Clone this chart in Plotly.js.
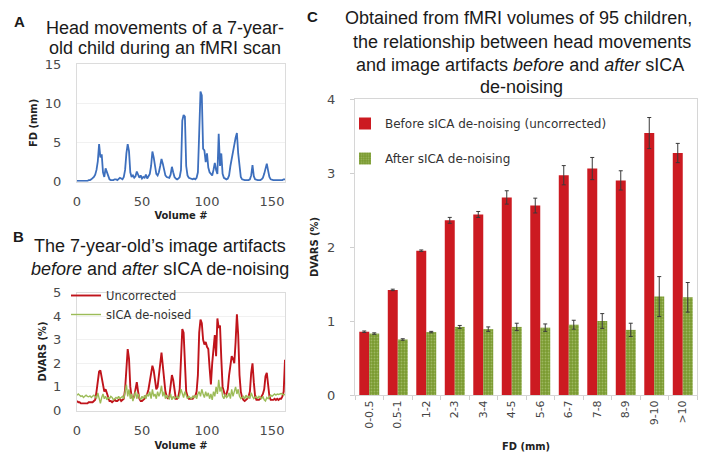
<!DOCTYPE html>
<html><head><meta charset="utf-8">
<script src="https://cdn.plot.ly/plotly-3.0.1.min.js"></script>
<style>html,body{margin:0;padding:0;background:#fff}#chart{width:705px;height:455px}</style>
</head><body><div id="chart"></div>
<script>
// Panel A: framewise displacement per volume (mm)
const fdMovement = [
0.1,0.1,0.1,0.1,0.1,0.1,0.1,0.1,0.1,0.2,
0.2,0.3,0.4,0.6,0.9,1.5,2.6,4.8,3.1,3.5,
1.2,0.6,1.7,1.2,0.5,0.3,0.2,0.2,0.2,0.3,
0.3,0.2,0.3,0.5,0.4,0.3,0.6,1.5,3.6,4.8,
3.9,1.2,0.6,0.8,0.5,0.7,1.3,0.8,0.5,0.8,
0.4,0.6,0.5,0.9,0.4,0.7,1.0,2.0,3.85,3.1,
1.8,1.0,0.8,1.2,2.0,2.9,2.3,1.3,0.8,0.6,
0.5,0.5,0.9,1.9,1.2,0.6,0.4,0.3,0.4,0.6,
1.5,7.8,8.5,8.3,2.0,0.8,0.5,0.4,0.3,0.3,
0.4,0.3,0.5,1.2,6.2,11.5,11.0,4.2,4.0,2.5,
3.6,1.8,1.2,1.0,0.8,1.5,2.4,1.5,1.0,6.1,
2.0,3.6,1.0,0.5,0.4,0.3,0.4,0.8,2.0,3.1,
4.1,4.7,5.6,6.2,3.6,1.5,0.6,0.3,0.2,0.2,
0.2,0.2,0.2,0.3,0.8,2.1,0.7,0.3,0.2,0.2,
0.2,0.2,0.3,0.5,1.0,1.9,2.3,1.4,0.6,0.3,
0.2,0.2,0.2,0.2,0.2,0.2,0.2,0.2,0.2,0.3,
0.3];
// Panel B: DVARS (%) per volume
const dvarsUncorrected = [
0.4,0.35,0.35,0.3,0.3,0.3,0.3,0.3,0.3,0.35,
0.35,0.35,0.35,0.4,0.45,0.8,1.2,1.65,1.7,1.4,
1.0,0.8,0.9,0.7,0.5,0.4,0.4,0.35,0.4,0.45,
0.4,0.4,0.45,0.5,0.4,0.45,0.5,0.9,2.0,2.6,
2.2,1.0,0.6,0.5,0.6,1.0,1.2,0.8,0.5,0.4,
0.4,0.45,0.5,0.6,0.7,0.9,1.2,1.6,1.9,1.7,
1.3,0.9,1.0,1.5,2.2,2.45,1.9,1.2,0.8,0.6,
0.5,0.6,1.0,1.5,1.3,0.8,0.5,0.5,0.6,0.9,
2.5,3.45,3.3,1.8,0.8,0.6,0.5,0.5,0.5,0.5,
0.6,0.6,0.8,1.5,3.3,3.85,3.7,3.0,2.8,2.9,
2.7,2.6,1.8,1.1,2.0,2.5,3.2,2.3,3.9,3.5,
3.6,2.2,1.0,0.8,0.6,0.7,0.9,1.5,2.0,2.3,
2.2,2.0,2.9,4.08,3.2,1.5,0.8,0.55,0.45,0.4,
0.45,0.5,0.6,0.8,1.6,2.0,1.2,0.6,0.45,0.45,
0.45,0.5,0.6,0.7,0.9,1.45,1.6,1.1,0.6,0.45,
0.45,0.45,0.5,0.45,0.5,0.45,0.5,0.5,0.6,0.8,
2.15];
const dvarsDenoised = [
0.65,0.7,0.65,0.6,0.62,0.55,0.6,0.65,0.6,0.58,
0.62,0.55,0.6,0.65,0.6,0.5,0.75,0.45,0.3,0.55,
0.7,0.5,0.6,0.45,0.55,0.5,0.6,0.55,0.45,0.5,
0.55,0.5,0.6,0.5,0.55,0.6,0.5,0.8,1.1,0.6,
0.9,0.5,0.7,0.4,0.6,0.8,0.5,0.7,0.55,0.45,
0.6,0.5,0.65,0.5,0.7,0.6,0.8,0.5,0.9,0.6,
0.7,0.5,0.8,0.6,0.75,1.05,0.6,0.8,0.5,0.65,
0.55,0.5,0.7,0.45,0.6,0.5,0.55,0.6,0.5,0.65,
0.9,0.7,0.55,0.8,0.6,0.5,0.6,0.55,0.5,0.6,
0.55,0.65,0.5,0.7,0.8,0.6,0.9,0.7,0.55,0.8,
0.6,0.75,0.5,0.7,0.45,0.8,0.6,1.0,0.7,1.3,
0.8,1.0,0.6,0.5,0.7,0.55,0.6,0.75,0.5,0.9,
0.6,0.8,1.0,0.7,0.9,0.6,0.5,0.55,0.6,0.5,
0.65,0.55,0.6,0.5,0.75,0.6,0.5,0.55,0.6,0.5,
0.6,0.55,0.5,0.6,0.45,0.4,0.55,0.5,0.6,0.65,
0.6,0.65,0.7,0.65,0.7,0.68,0.7,0.72,0.7,0.65,
0.7];
const volumes = fdMovement.map((_, i) => i);

// Panel C: group means and error bars
const fdBins = ['0-0.5','0.5-1','1-2','2-3','3-4','4-5','5-6','6-7','7-8','8-9','9-10','>10'];
const dvarsBefore    = [0.855,1.42,1.95,2.36,2.44,2.67,2.56,2.97,3.06,2.90,3.54,3.27];
const dvarsBeforeErr = [0.01,0.01,0.01,0.04,0.04,0.09,0.10,0.13,0.15,0.13,0.21,0.13];
const dvarsAfter     = [0.83,0.75,0.85,0.92,0.89,0.92,0.91,0.95,1.00,0.88,1.33,1.32];
const dvarsAfterErr  = [0.01,0.01,0.01,0.02,0.03,0.05,0.05,0.06,0.10,0.09,0.27,0.20];

const W = 705, H = 455;
const px = v => v / W;
const py = v => 1 - v / H;

const tickFont = {family: 'DejaVu Sans', size: 13, color: '#4a4a4a'};
const axTitleFont = {family: 'DejaVu Sans Condensed', size: 11, color: '#222', weight: 'bold'};
const titleFont = {family: 'Liberation Sans, Arial', size: 18, color: '#1a1a1a'};
const letterFont = {family: 'Liberation Sans, Arial', size: 15, color: '#1a1a1a', weight: 'bold'};

const traces = [
  {x: volumes, y: fdMovement, type: 'scatter', mode: 'lines', xaxis: 'x', yaxis: 'y',
   line: {color: '#3d6fbd', width: 1.8}, showlegend: false},
  {x: volumes, y: dvarsUncorrected, type: 'scatter', mode: 'lines', xaxis: 'x2', yaxis: 'y2',
   name: 'Uncorrected', line: {color: '#c0141b', width: 1.9}, legend: 'legend'},
  {x: volumes, y: dvarsDenoised, type: 'scatter', mode: 'lines', xaxis: 'x2', yaxis: 'y2',
   name: 'sICA de-noised', line: {color: '#9cbc58', width: 1.4}, legend: 'legend'},
  {x: fdBins, y: dvarsBefore, type: 'bar', xaxis: 'x3', yaxis: 'y3',
   name: 'Before sICA de-noising (uncorrected)', legend: 'legend2', legendgroup: 'a',
   marker: {color: '#cc1a21'},
   error_y: {type: 'data', array: dvarsBeforeErr, visible: true, color: '#3a3a3a', thickness: 1, width: 2}},
  {x: fdBins, y: dvarsAfter, type: 'bar', xaxis: 'x3', yaxis: 'y3',
   name: 'After sICA de-noising', legend: 'legend2', legendgroup: 'b',
   marker: {color: '#7c9c35', pattern: {shape: '.', fgcolor: '#9db860', bgcolor: '#7a9a30', size: 3, solidity: 0.3}},
   error_y: {type: 'data', array: dvarsAfterErr, visible: true, color: '#3a3a3a', thickness: 1, width: 2}}
];

const lineAxis = {showline: true, linecolor: '#dcdcdc', mirror: true, zeroline: false,
  showgrid: true, gridcolor: '#f1f1f1', ticks: '', tickfont: tickFont};

function ann(text, x, y, font) {
  return {text: text, x: px(x), y: py(y), xref: 'paper', yref: 'paper', showarrow: false,
          xanchor: 'center', yanchor: 'middle', font: font};
}

const layout = {
  width: W, height: H, autosize: false,
  margin: {l: 0, r: 0, t: 0, b: 0},
  paper_bgcolor: '#fff', plot_bgcolor: '#fff',
  barmode: 'group', bargap: 0.3, bargroupgap: 0,
  xaxis: Object.assign({}, lineAxis, {domain: [px(77), px(285)], range: [0, 160], dtick: 50, anchor: 'y',
    showgrid: false, ticklabelstandoff: 8,
    title: {text: 'Volume #', font: axTitleFont, standoff: 3}}),
  yaxis: Object.assign({}, lineAxis, {domain: [py(181.7), py(64)], range: [0, 15], dtick: 5, anchor: 'x',
    ticklabelstandoff: 12,
    title: {text: 'FD (mm)', font: axTitleFont, standoff: 4}}),
  xaxis2: Object.assign({}, lineAxis, {domain: [px(77), px(285)], range: [0, 160], dtick: 50, anchor: 'y2',
    showgrid: false, ticklabelstandoff: 8,
    title: {text: 'Volume #', font: axTitleFont, standoff: 4}}),
  yaxis2: Object.assign({}, lineAxis, {domain: [py(410.5), py(292.5)], range: [0, 5], dtick: 1, anchor: 'x2',
    ticklabelstandoff: 12,
    title: {text: 'DVARS (%)', font: axTitleFont, standoff: 4}}),
  xaxis3: {domain: [px(355), px(697)], anchor: 'y3', type: 'category',
    showline: true, linecolor: '#d6d6d6', mirror: true, showgrid: false, zeroline: false,
    ticks: 'outside', tickson: 'boundaries', ticklen: 4, tickcolor: '#cfcfcf',
    tickangle: -90, tickfont: {family: 'DejaVu Sans', size: 11, color: '#444'},
    title: {text: 'FD (mm)', font: axTitleFont, standoff: 14}},
  yaxis3: {domain: [py(395), py(99)], anchor: 'x3', range: [0, 4], dtick: 1,
    showline: true, linecolor: '#d6d6d6', mirror: true, showgrid: false, zeroline: false,
    ticks: 'outside', ticklen: 4, tickcolor: '#cfcfcf', ticklabelstandoff: 12, tickfont: tickFont,
    title: {text: 'DVARS (%)', font: axTitleFont, standoff: 6}},
  legend: {x: px(66), y: py(281), xanchor: 'left', yanchor: 'top', bgcolor: 'rgba(0,0,0,0)',
    font: {family: 'DejaVu Sans', size: 11.5, color: '#333'}, tracegroupgap: 0},
  legend2: {x: px(345), y: py(109), xanchor: 'left', yanchor: 'top', bgcolor: 'rgba(0,0,0,0)',
    font: {family: 'DejaVu Sans', size: 12, color: '#333'}, tracegroupgap: 16, traceorder: 'grouped'},
  annotations: [
    ann('A', 19, 21, letterFont),
    ann('Head movements of a 7-year-', 164.5, 28, titleFont),
    ann('old child during an fMRI scan', 164.5, 48, titleFont),
    ann('B', 18, 236, letterFont),
    ann('The 7-year-old\u2019s image artifacts', 159.5, 246, titleFont),
    ann('<i>before</i> and <i>after</i> sICA de-noising', 159.5, 269, titleFont),
    ann('C', 312.5, 16.5, letterFont),
    ann('Obtained from fMRI volumes of 95 children,', 518, 18.5, titleFont),
    ann('the relationship between head movements', 522, 42, titleFont),
    ann('and image artifacts <i>before</i> and <i>after</i> sICA', 520, 65, titleFont),
    ann('de-noising', 521.5, 87, titleFont)
  ]
};

Plotly.newPlot('chart', traces, layout, {displayModeBar: false, staticPlot: true});
</script>
</body></html>
